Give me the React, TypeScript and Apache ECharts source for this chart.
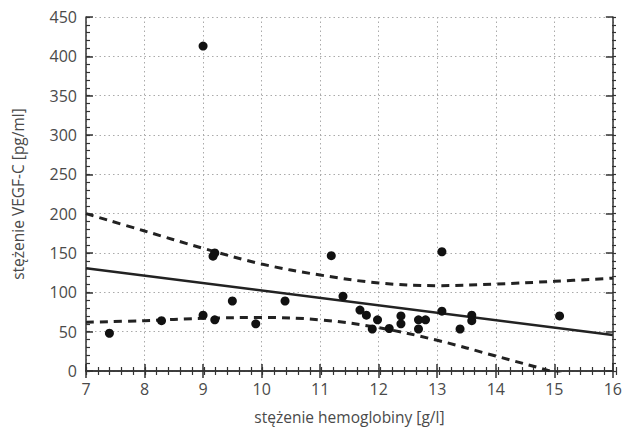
import React, { useEffect, useRef } from "react";
import * as echarts from "echarts";

const pointX = [7.4, 8.29, 9.0, 9.2, 9.5, 9.9, 10.4, 11.39, 11.68, 11.79, 11.98, 11.89, 12.18, 12.38, 12.38, 12.68, 12.68, 12.8, 13.08, 13.39, 13.59, 13.59, 15.09, 9.0, 13.08, 9.17, 9.2, 11.19];
const pointY = [48, 64, 71, 65, 89, 60, 89, 95, 77.5, 71, 65, 53.4, 54, 70, 60, 65, 53.4, 65, 76, 53.4, 71, 64, 70, 413, 151.6, 146, 150, 146.6];

const fitX = [7, 16];
const fitY = [130.5, 45.8];

const bandX = [7, 8, 9, 10, 11, 12, 13, 14, 15, 16];
const bandUpper = [200, 178, 156, 136, 122, 112, 108.5, 110.5, 114, 118];
const bandLower = [62, 64, 67, 68, 65, 55, 39, 19, -1.5, -24];

const xTicks = [7, 16, 1, 0.2];
const yTicks = [0, 450, 50, 10];

const xName = "stężenie hemoglobiny [g/l]";
const yName = "stężenie VEGF-C [pg/ml]";

const FONT = "'Open Sans', 'Noto Sans', sans-serif";
const TEXT = "#4a4a4a";
const AXIS = "#333";

export default function App() {
  const ref = useRef<HTMLDivElement>(null);
  useEffect(() => {
    if (!ref.current) return;
    const chart = echarts.init(ref.current, null, { renderer: "svg" });
    const pts = pointX.map((x, i) => [x, pointY[i]]);
    const fit = fitX.map((x, i) => [x, fitY[i]]);
    const up = bandX.map((x, i) => [x, bandUpper[i]]);
    const lo = bandX.map((x, i) => [x, bandLower[i]]);
    const gridBox = { left: 86, right: 9, top: 17, bottom: 63, containLabel: false };
    const major = {
      axisLine: { show: true, lineStyle: { color: AXIS, width: 1.5 } },
      axisTick: { show: true, inside: true, length: 7, lineStyle: { color: AXIS, width: 1.5 } },
    };
    const minor = {
      axisLine: { show: false },
      axisLabel: { show: false },
      splitLine: { show: false },
      axisTick: { show: true, inside: true, length: 4, lineStyle: { color: AXIS, width: 1.2 } },
    };
    chart.setOption({
      animation: false,
      backgroundColor: "#fff",
      grid: [gridBox, gridBox],
      xAxis: [
        {
          type: "value",
          gridIndex: 0,
          min: xTicks[0],
          max: xTicks[1],
          interval: xTicks[2],
          name: xName,
          nameLocation: "middle",
          nameGap: 38,
          nameTextStyle: { fontFamily: FONT, fontSize: 15.5, color: TEXT },
          axisLabel: { fontFamily: FONT, fontSize: 16, color: TEXT, margin: 10 },
          splitLine: { show: true, lineStyle: { color: "#aaa", width: 1, type: [1.5, 3] } },
          ...major,
        },
        {
          type: "value",
          gridIndex: 0,
          position: "top",
          min: xTicks[0],
          max: xTicks[1],
          interval: xTicks[2],
          axisLabel: { show: false },
          splitLine: { show: false },
          ...major,
        },
        {
          type: "value",
          gridIndex: 1,
          position: "bottom",
          min: xTicks[0],
          max: xTicks[1],
          interval: xTicks[3],
          ...minor,
        },
        {
          type: "value",
          gridIndex: 1,
          position: "top",
          min: xTicks[0],
          max: xTicks[1],
          interval: xTicks[3],
          ...minor,
        },
      ],
      yAxis: [
        {
          type: "value",
          gridIndex: 0,
          min: yTicks[0],
          max: yTicks[1],
          interval: yTicks[2],
          name: yName,
          nameLocation: "middle",
          nameGap: 60,
          nameTextStyle: { fontFamily: FONT, fontSize: 15.5, color: TEXT },
          axisLabel: { fontFamily: FONT, fontSize: 16, color: TEXT, margin: 9 },
          splitLine: { show: true, lineStyle: { color: "#aaa", width: 1, type: [1.5, 3] } },
          ...major,
        },
        {
          type: "value",
          gridIndex: 0,
          position: "right",
          min: yTicks[0],
          max: yTicks[1],
          interval: yTicks[2],
          axisLabel: { show: false },
          splitLine: { show: false },
          ...major,
        },
        {
          type: "value",
          gridIndex: 1,
          position: "left",
          min: yTicks[0],
          max: yTicks[1],
          interval: yTicks[3],
          ...minor,
        },
        {
          type: "value",
          gridIndex: 1,
          position: "right",
          min: yTicks[0],
          max: yTicks[1],
          interval: yTicks[3],
          ...minor,
        },
      ],
      series: [
        {
          type: "line",
          data: up,
          smooth: 0.4,
          showSymbol: false,
          clip: true,
          lineStyle: { color: "#222", width: 3, type: [8, 6] },
          z: 2,
        },
        {
          type: "line",
          data: lo,
          smooth: 0.4,
          showSymbol: false,
          clip: true,
          lineStyle: { color: "#222", width: 3, type: [8, 6] },
          z: 2,
        },
        {
          type: "line",
          data: fit,
          showSymbol: false,
          clip: true,
          lineStyle: { color: "#222", width: 2.5 },
          z: 3,
        },
        {
          type: "scatter",
          data: pts,
          symbol: "circle",
          symbolSize: 9,
          itemStyle: { color: "#111", opacity: 1 },
          z: 4,
        },
      ],
    });
    return () => chart.dispose();
  }, []);
  return (
    <div
      ref={ref}
      style={{ position: "fixed", left: 0, top: 0, width: 625, height: 434 }}
    />
  );
}
